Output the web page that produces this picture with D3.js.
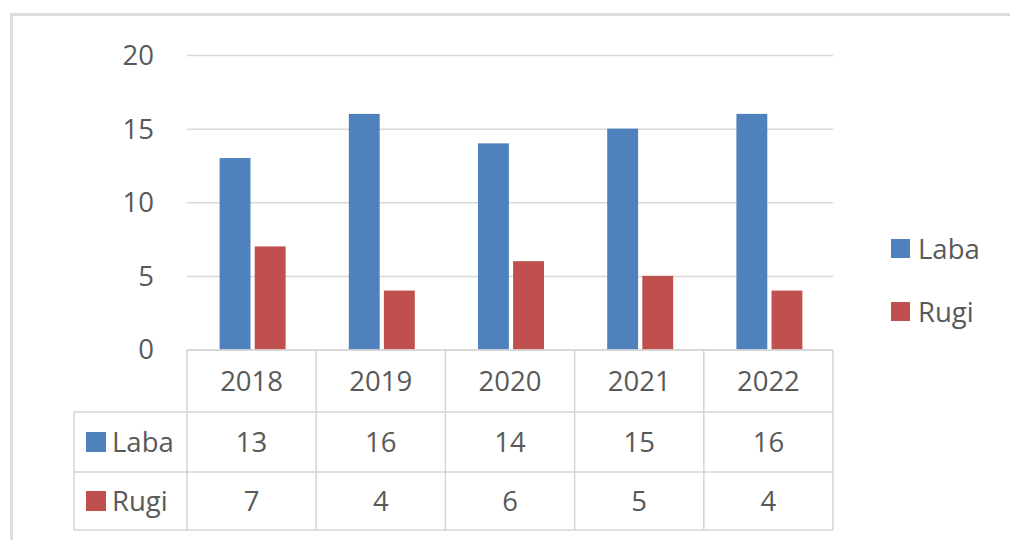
<!DOCTYPE html>
<html>
<head>
<meta charset="utf-8">
<script src="https://cdn.jsdelivr.net/npm/d3@7/dist/d3.min.js"></script>
<style>
html,body{margin:0;padding:0;background:#fff;}
svg{display:block;}
text{font-family:"Open Sans",sans-serif;fill:#595959;}
</style>
</head>
<body>
<svg id="chart" width="1010" height="540"></svg>
<script>
const categories = ["2018","2019","2020","2021","2022"];
const seriesNames = ["Laba","Rugi"];
const laba = [13,16,14,15,16];
const rugi = [7,4,6,5,4];
const yTicks = [0,5,10,15,20];
const colors = ["#4F81BD","#C0504D"];
const seriesValues = [laba, rugi];

const svg = d3.select("#chart");
const W = 1010, H = 540;
const FS = 27.5;

// outer frame
svg.append("rect").attr("x",11.5).attr("y",14.5).attr("width",W).attr("height",H)
  .attr("fill","none").attr("stroke","#dedede").attr("stroke-width",3);

const plotLeft = 187, plotRight = 833, plotTop = 55, zeroY = 349.5;
const x = d3.scaleBand().domain(categories).range([plotLeft,plotRight]).paddingInner(0).paddingOuter(0);
const y = d3.scaleLinear().domain([0,20]).range([zeroY, plotTop]);
const xs = d3.scaleBand().domain(seriesNames).range([0, 66]).paddingInner(0.12);

// gridlines
const yAxis = d3.axisLeft(y).tickValues(yTicks).tickSize(-(plotRight-plotLeft)).tickPadding(0).tickFormat("");
const gy = svg.append("g").attr("transform",`translate(${plotLeft},0)`).call(yAxis);
gy.select(".domain").remove();
gy.selectAll(".tick line").attr("stroke","#d9d9d9").attr("stroke-width",1.5);

// y tick labels
svg.append("g").selectAll("text").data(yTicks).join("text")
  .attr("x",154).attr("y",d=>y(d)).attr("dy","0.36em").attr("text-anchor","end")
  .attr("font-size",FS).text(d=>d);

// bars
const groups = svg.append("g").selectAll("g").data(categories).join("g")
  .attr("transform",d=>`translate(${x(d)+x.bandwidth()/2-32},0)`);
groups.selectAll("rect").data((d,i)=>seriesNames.map((s,j)=>({s, v:seriesValues[j][i], j})))
  .join("rect")
  .attr("x",d=>xs(d.s)).attr("width",xs.bandwidth())
  .attr("y",d=>y(d.v)).attr("height",d=>zeroY-y(d.v))
  .attr("fill",d=>colors[d.j]);

// data table
const tLeft = 74, rowH = [350, 412, 472, 530];
const lineColor = "#d4d4d4";
const tg = svg.append("g");
tg.append("line").attr("x1",plotLeft).attr("x2",plotRight).attr("y1",rowH[0]).attr("y2",rowH[0])
  .attr("stroke",lineColor).attr("stroke-width",1.5);
[rowH[1],rowH[2],rowH[3]].forEach(yy=>{
  tg.append("line").attr("x1",tLeft).attr("x2",plotRight).attr("y1",yy).attr("y2",yy)
    .attr("stroke",lineColor).attr("stroke-width",1.5);
});
tg.append("line").attr("x1",tLeft).attr("x2",tLeft).attr("y1",rowH[1]).attr("y2",rowH[3])
  .attr("stroke",lineColor).attr("stroke-width",1.5);
categories.forEach(c=>{
  tg.append("line").attr("x1",x(c)).attr("x2",x(c)).attr("y1",rowH[0]).attr("y2",rowH[3])
    .attr("stroke",lineColor).attr("stroke-width",1.5);
});
tg.append("line").attr("x1",plotRight).attr("x2",plotRight).attr("y1",rowH[0]).attr("y2",rowH[3])
  .attr("stroke",lineColor).attr("stroke-width",1.5);

tg.selectAll("text.cat").data(categories).join("text").attr("class","cat")
  .attr("x",d=>x(d)+x.bandwidth()/2).attr("y",(rowH[0]+rowH[1])/2).attr("dy","0.36em")
  .attr("text-anchor","middle").attr("font-size",FS).text(d=>d);

seriesNames.forEach((s,j)=>{
  const cy = (rowH[j+1]+rowH[j+2])/2;
  tg.append("rect").attr("x",86).attr("y",cy-10).attr("width",20).attr("height",20).attr("fill",colors[j]);
  tg.append("text").attr("x",112).attr("y",cy).attr("dy","0.36em").attr("font-size",FS).text(s);
  tg.selectAll("text.v"+j).data(seriesValues[j]).join("text").attr("class","v"+j)
    .attr("x",(d,i)=>x(categories[i])+x.bandwidth()/2).attr("y",cy).attr("dy","0.36em")
    .attr("text-anchor","middle").attr("font-size",FS).text(d=>d);
});

// legend
const lg = svg.append("g");
seriesNames.forEach((s,j)=>{
  const cy = 249 + j*63;
  lg.append("rect").attr("x",891).attr("y",cy-10).attr("width",19).attr("height",19).attr("fill",colors[j]);
  lg.append("text").attr("x",918).attr("y",cy).attr("dy","0.36em").attr("font-size",FS).text(s);
});
</script>
</body>
</html>
